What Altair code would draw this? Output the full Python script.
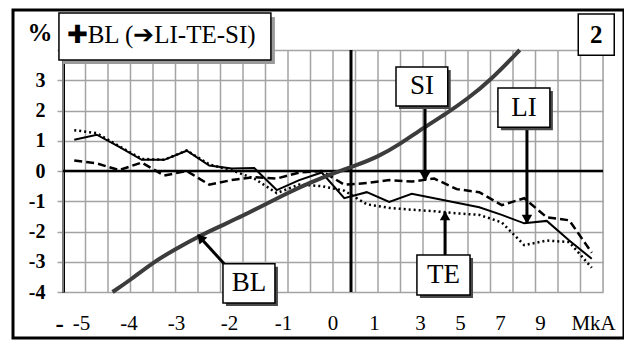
import altair as alt
import pandas as pd

# ---------------- data ----------------
x_pts = [0.5, 1.5, 2.5, 3.5, 4.5, 5.5, 6.5, 7.5, 8.5, 9.5, 10.5, 11.5,
         12.5, 13.5, 14.5, 15.5, 16.5, 17.5, 18.5, 19.5, 20.5, 21.5, 22.5, 23.5]
li = [1.03, 1.2, 0.8, 0.37, 0.37, 0.67, 0.18, 0.08, 0.1, -0.63, -0.3, -0.05,
      -0.9, -0.7, -1.02, -0.75, -0.9, -1.05, -1.2, -1.45, -1.73, -1.65, -2.3, -2.9]
te = [1.35, 1.25, 0.82, 0.4, 0.37, 0.68, 0.22, 0.02, -0.25, -0.73, -0.45, -0.5,
      -0.65, -1.1, -1.22, -1.28, -1.33, -1.4, -1.45, -1.7, -2.45, -2.3, -2.35, -3.2]
si = [0.35, 0.25, 0.03, 0.28, -0.15, 0.0, -0.45, -0.3, -0.2, -0.25, -0.05, 0.0,
      -0.45, -0.4, -0.3, -0.35, -0.25, -0.6, -0.7, -1.13, -0.9, -1.53, -1.63, -2.7]
bl_x = [2.2, 3, 4, 5, 6, 7, 8, 9, 10, 11, 12, 13, 14, 15, 16, 17, 18, 19, 20.3]
bl_y = [-4.0, -3.6, -3.02, -2.58, -2.17, -1.82, -1.48, -1.1, -0.72, -0.38, -0.08, 0.18,
        0.47, 0.9, 1.42, 1.88, 2.4, 3.0, 4.0]

grid_x = [0, 1, 2, 3, 4, 5, 6, 7, 8, 9, 10, 11, 12, 13, 14, 15, 16, 17, 18,
          19, 20, 21, 22, 23, 24]
x_tick_pos = [0.8, 2.91, 5.02, 7.38, 9.78, 11.98, 13.82, 15.87, 17.64,
              19.42, 21.2, 23.56]
x_tick_lab = ["-5", "-4", "-3", "-2", "-1", "0", "1", "3", "5", "7", "9", "MkA"]
y_ticks = [-4, -3, -2, -1, 0, 1, 2, 3, 4]
zero_line = [0]
mark_line_x = [12.8]

box_lab = ["SI", "LI", "TE", "BL"]
box_x1 = [14.8, 19.33, 15.73, 7.11]
box_x2 = [17.1, 21.64, 18.09, 9.42]
box_y1 = [2.15, 1.45, -4.1, -4.36]
box_y2 = [3.44, 2.74, -2.78, -3.07]
arr_x1 = [16.09, 20.62, 16.98, 7.29]
arr_y1 = [2.15, 1.45, -2.78, -3.17]
arr_x2 = [16.09, 20.62, 16.98, 6.0]
arr_y2 = [-0.3, -1.72, -1.36, -2.12]
head_x = [16.09, 20.62, 16.98, 6.15]
head_y = [-0.13, -1.55, -1.53, -2.24]
head_ang = [180, 180, 0, 318]

# ---------------- scales / axes ----------------
xs = alt.Scale(domain=[0, 24], nice=False, zero=False)
ys = alt.Scale(domain=[-4, 4], nice=False, zero=False)

expr = " : ".join(f"datum.value == {p} ? '{l}'" for p, l in zip(x_tick_pos, x_tick_lab)) + " : ''"
x_axis = alt.Axis(values=x_tick_pos, labelExpr=expr, grid=False, ticks=False, domain=False,
                  labelFont="Liberation Serif", labelFontSize=21, labelColor="black",
                  labelPadding=20, labelOverlap=False, labelFlush=False, title=None)
y_axis = alt.Axis(values=y_ticks, labelExpr="datum.value == 4 ? '' : toString(datum.value)",
                  grid=True, gridColor="#a3a3a3", gridWidth=1.5,
                  tickColor="#a3a3a3", tickWidth=1.5, tickSize=6,
                  domainColor="black", domainWidth=3, labelOverlap=False, labelFlush=False,
                  labelFont="Liberation Serif", labelFontSize=20, labelFontWeight="bold",
                  labelColor="black", labelPadding=12, title=None)


def X(f):
    return alt.X(f, type="quantitative", scale=xs, axis=x_axis)


def Y(f):
    return alt.Y(f, type="quantitative", scale=ys, axis=y_axis)


series = pd.DataFrame({"u": x_pts, "li": li, "te": te, "si": si})
bl_df = pd.DataFrame({"u": bl_x, "v": bl_y})
grid_df = pd.DataFrame({"u": grid_x, "a": [-4] * len(grid_x), "b": [4] * len(grid_x)})
zero_df = pd.DataFrame({"v": zero_line, "a": [0], "b": [24]})
vl_df = pd.DataFrame({"u": mark_line_x, "a": [-4], "b": [4]})
box_df = pd.DataFrame({"lab": box_lab, "x1": box_x1, "x2": box_x2, "y1": box_y1, "y2": box_y2,
                       "cx": [(a + b) / 2 for a, b in zip(box_x1, box_x2)],
                       "cy": [(a + b) / 2 for a, b in zip(box_y1, box_y2)]})
arr_df = pd.DataFrame({"x1": arr_x1, "y1": arr_y1, "x2": arr_x2, "y2": arr_y2})
head_df = pd.DataFrame({"u": head_x, "v": head_y, "ang": head_ang})

grid = alt.Chart(grid_df).mark_rule(color="#a3a3a3", strokeWidth=1.5).encode(
    x=X("u"), y=Y("a"), y2="b")

zero = alt.Chart(zero_df).mark_rule(color="black", strokeWidth=2.5).encode(
    y=Y("v"), x=X("a"), x2="b")
vline = alt.Chart(vl_df).mark_rule(color="black", strokeWidth=3).encode(
    x=X("u"), y=Y("a"), y2="b")

si_line = alt.Chart(series).mark_line(color="black", strokeWidth=2.5, strokeDash=[8, 4]).encode(
    x=X("u"), y=Y("si"))
te_line = alt.Chart(series).mark_line(color="black", strokeWidth=2.5, strokeDash=[2, 3]).encode(
    x=X("u"), y=Y("te"))
li_line = alt.Chart(series).mark_line(color="black", strokeWidth=2).encode(
    x=X("u"), y=Y("li"))
bl_line = alt.Chart(bl_df).mark_line(color="#3c3c3c", strokeWidth=4, interpolate="basis").encode(
    x=X("u"), y=Y("v"))

arrows = alt.Chart(arr_df).mark_rule(color="black", strokeWidth=3).encode(
    x=X("x1"), y=Y("y1"), x2="x2", y2="y2")
heads = alt.Chart(head_df).mark_point(shape="triangle", filled=True, color="black",
                                      size=110, opacity=1).encode(
    x=X("u"), y=Y("v"), angle=alt.Angle("ang:Q", scale=None))

shadow = alt.Chart(box_df).mark_rect(color="#4a4a4a", xOffset=3, x2Offset=3,
                                     yOffset=3, y2Offset=3).encode(
    x=X("x1"), x2="x2", y=Y("y1"), y2="y2")
boxes = alt.Chart(box_df).mark_rect(fill="white", stroke="black", strokeWidth=1.5).encode(
    x=X("x1"), x2="x2", y=Y("y1"), y2="y2")
box_text = alt.Chart(box_df).mark_text(font="Liberation Serif", fontSize=27, color="black",
                                       baseline="middle", align="center").encode(
    x=X("cx"), y=Y("cy"), text="lab:N")

# header box, panel number, unit, stray tick mark
hdr_df = pd.DataFrame({"x1": [-0.18, 22.9], "x2": [9.24, 24.5], "y1": [3.67, 3.83],
                       "y2": [5.22, 5.19], "cx": [4.36, 23.7], "cy": [4.5, 4.5],
                       "t": ["✚BL (➔LI-TE-SI)", "2"]})
hdr_shadow = alt.Chart(hdr_df.iloc[:1]).mark_rect(color="#9a9a9a", xOffset=4, x2Offset=4,
                                                  yOffset=4, y2Offset=4).encode(
    x=X("x1"), x2="x2", y=Y("y1"), y2="y2")
hdr_box = alt.Chart(hdr_df).mark_rect(fill="white", stroke="black", strokeWidth=1.5).encode(
    x=X("x1"), x2="x2", y=Y("y1"), y2="y2")
hdr_text = alt.Chart(hdr_df.iloc[:1]).mark_text(font="Liberation Serif", fontSize=25,
                                                color="black", baseline="middle").encode(
    x=X("cx"), y=Y("cy"), text="t:N")
num_text = alt.Chart(hdr_df.iloc[1:]).mark_text(font="Liberation Serif", fontSize=25,
                                                fontWeight="bold", color="black",
                                                baseline="middle").encode(
    x=X("cx"), y=Y("cy"), text="t:N")
pct_df = pd.DataFrame({"u": [-1.02, -0.15], "v": [4.56, -5.05], "t": ["%", "-"]})
pct = alt.Chart(pct_df).mark_text(font="Liberation Serif", fontSize=25, fontWeight="bold",
                                  color="black", baseline="middle").encode(
    x=X("u"), y=Y("v"), text="t:N")

frame = alt.Chart(pd.DataFrame({"k": [0]})).mark_rect(fillOpacity=0, stroke="black",
                                                      strokeWidth=3).encode(
    x=alt.value(-50), x2=alt.value(561), y=alt.value(-40), y2=alt.value(288))

chart = alt.layer(grid, zero, vline, si_line, te_line, li_line, bl_line, arrows, heads,
                  shadow, boxes, box_text, hdr_shadow, hdr_box, hdr_text, num_text, pct,
                  frame).properties(
    width=540, height=242, autosize="none",
    padding={"left": 55, "top": 42, "right": 21, "bottom": 48},
).configure_view(stroke=None).configure(background="white")

chart.save("out.html", embed_options={"renderer": "svg", "actions": False})
